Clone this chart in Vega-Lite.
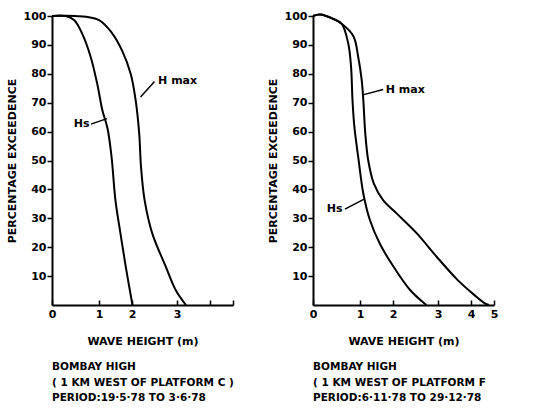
{
  "$schema": "https://vega.github.io/schema/vega-lite/v6.json",
  "padding": {"left": 6, "top": 10, "right": 0, "bottom": 0},
  "spacing": 33,
  "background": "white",
  "datasets": {
    "curves": [
      {"panel": "C", "series": "Hs", "h": 0, "p": 100},
      {"panel": "C", "series": "Hs", "h": 0.29, "p": 100},
      {"panel": "C", "series": "Hs", "h": 0.47, "p": 98.6},
      {"panel": "C", "series": "Hs", "h": 0.64, "p": 94},
      {"panel": "C", "series": "Hs", "h": 0.82, "p": 86},
      {"panel": "C", "series": "Hs", "h": 0.96, "p": 76.7},
      {"panel": "C", "series": "Hs", "h": 1.1, "p": 67.5},
      {"panel": "C", "series": "Hs", "h": 1.26, "p": 61},
      {"panel": "C", "series": "Hs", "h": 1.38, "p": 51.3},
      {"panel": "C", "series": "Hs", "h": 1.5, "p": 36},
      {"panel": "C", "series": "Hs", "h": 1.65, "p": 24.8},
      {"panel": "C", "series": "Hs", "h": 1.81, "p": 13.3},
      {"panel": "C", "series": "Hs", "h": 2.01, "p": 0},
      {"panel": "C", "series": "Hmax", "h": 0, "p": 100},
      {"panel": "C", "series": "Hmax", "h": 0.5, "p": 100},
      {"panel": "C", "series": "Hmax", "h": 1.0, "p": 98.6},
      {"panel": "C", "series": "Hmax", "h": 1.4, "p": 94},
      {"panel": "C", "series": "Hmax", "h": 1.7, "p": 88},
      {"panel": "C", "series": "Hmax", "h": 1.96, "p": 80},
      {"panel": "C", "series": "Hmax", "h": 2.08, "p": 71},
      {"panel": "C", "series": "Hmax", "h": 2.16, "p": 59.4},
      {"panel": "C", "series": "Hmax", "h": 2.2, "p": 47.9},
      {"panel": "C", "series": "Hmax", "h": 2.28, "p": 36.3},
      {"panel": "C", "series": "Hmax", "h": 2.45, "p": 24.8},
      {"panel": "C", "series": "Hmax", "h": 2.75, "p": 13.3},
      {"panel": "C", "series": "Hmax", "h": 2.97, "p": 5.2},
      {"panel": "C", "series": "Hmax", "h": 3.27, "p": 0},
      {"panel": "F", "series": "Hs", "h": 0, "p": 100},
      {"panel": "F", "series": "Hs", "h": 0.15, "p": 100.5},
      {"panel": "F", "series": "Hs", "h": 0.43, "p": 99},
      {"panel": "F", "series": "Hs", "h": 0.61, "p": 97.3},
      {"panel": "F", "series": "Hs", "h": 0.75, "p": 90.5},
      {"panel": "F", "series": "Hs", "h": 0.81, "p": 82.4},
      {"panel": "F", "series": "Hs", "h": 0.84, "p": 71},
      {"panel": "F", "series": "Hs", "h": 0.88, "p": 61.7},
      {"panel": "F", "series": "Hs", "h": 0.97, "p": 50.2},
      {"panel": "F", "series": "Hs", "h": 1.1, "p": 38.6},
      {"panel": "F", "series": "Hs", "h": 1.3, "p": 29.4},
      {"panel": "F", "series": "Hs", "h": 1.61, "p": 21},
      {"panel": "F", "series": "Hs", "h": 2.01, "p": 13.3},
      {"panel": "F", "series": "Hs", "h": 2.38, "p": 5.2},
      {"panel": "F", "series": "Hs", "h": 2.74, "p": 0},
      {"panel": "F", "series": "Hmax", "h": 0, "p": 100},
      {"panel": "F", "series": "Hmax", "h": 0.15, "p": 100.5},
      {"panel": "F", "series": "Hmax", "h": 0.43, "p": 99},
      {"panel": "F", "series": "Hmax", "h": 0.61, "p": 97.3},
      {"panel": "F", "series": "Hmax", "h": 0.86, "p": 93},
      {"panel": "F", "series": "Hmax", "h": 0.96, "p": 86},
      {"panel": "F", "series": "Hmax", "h": 1.05, "p": 78},
      {"panel": "F", "series": "Hmax", "h": 1.1, "p": 71},
      {"panel": "F", "series": "Hmax", "h": 1.16, "p": 59.4},
      {"panel": "F", "series": "Hmax", "h": 1.25, "p": 50},
      {"panel": "F", "series": "Hmax", "h": 1.42, "p": 42},
      {"panel": "F", "series": "Hmax", "h": 1.7, "p": 36.3},
      {"panel": "F", "series": "Hmax", "h": 2.08, "p": 31.7},
      {"panel": "F", "series": "Hmax", "h": 2.53, "p": 24.8},
      {"panel": "F", "series": "Hmax", "h": 2.97, "p": 16.7},
      {"panel": "F", "series": "Hmax", "h": 3.59, "p": 8.7},
      {"panel": "F", "series": "Hmax", "h": 4.14, "p": 3.5},
      {"panel": "F", "series": "Hmax", "h": 4.6, "p": 0.6},
      {"panel": "F", "series": "Hmax", "h": 4.78, "p": 0}
    ],
    "notes": [
      {"panel": "C", "series": "Hmax", "label": "H max", "tx": 2.58, "ty": 77.5, "x1": 2.19, "y1": 72, "x2": 2.5, "y2": 77.3},
      {"panel": "C", "series": "Hs", "label": "Hs", "tx": 0.8, "ty": 62.6, "x1": 0.83, "y1": 62.6, "x2": 1.24, "y2": 64.5},
      {"panel": "F", "series": "Hmax", "label": "H max", "tx": 1.78, "ty": 74.4, "x1": 1.09, "y1": 72.7, "x2": 1.7, "y2": 74.6},
      {"panel": "F", "series": "Hs", "label": "Hs", "tx": 0.63, "ty": 33.2, "x1": 0.68, "y1": 33.2, "x2": 1.14, "y2": 36.7}
    ]
  },
  "config": {
    "view": {"stroke": null},
    "font": "DejaVu Sans",
    "axis": {
      "grid": false,
      "labelOverlap": false,
      "domainColor": "black",
      "domainWidth": 2,
      "tickColor": "black",
      "tickWidth": 1.5,
      "labelFont": "DejaVu Sans",
      "labelFontWeight": "bold",
      "labelFontSize": 11,
      "labelColor": "black",
      "titleFont": "DejaVu Sans",
      "titleFontWeight": "bold",
      "titleFontSize": 11,
      "titleColor": "black"
    },
    "title": {"font": "DejaVu Sans", "fontWeight": "bold", "fontSize": 10.5, "color": "black", "lineHeight": 15.5}
  },
  "hconcat": [
    {
      "width": 181,
      "height": 289,
      "title": {"text": ["BOMBAY HIGH", "( 1 KM WEST OF PLATFORM C )", "PERIOD:19·5·78 TO 3·6·78"], "orient": "bottom", "anchor": "start", "frame": "group", "offset": 16},
      "layer": [
        {
          "data": {"name": "curves"},
          "transform": [{"filter": "datum.panel === 'C'"}],
          "mark": {"type": "line", "color": "black", "strokeWidth": 2, "interpolate": "catmull-rom"},
          "encoding": {
            "x": {"field": "h", "type": "quantitative",
                  "scale": {"domain": [0, 1, 2, 3, 4, 5], "range": [0, 47, 80, 125, 158, 181]},
                  "axis": {"values": [0, 1, 2, 3, 4, 5], "format": "d", "tickCount": 20, "labelOverlap": false, "labelFlush": false, "tickSize": -5, "labelPadding": 8, "titlePadding": 16, "title": "WAVE HEIGHT (m)",
                           "labelExpr": "datum.value > 3 ? '' : datum.label"}},
            "y": {"field": "p", "type": "quantitative",
                  "scale": {"domain": [0, 100], "nice": false},
                  "axis": {"values": [10, 20, 30, 40, 50, 60, 70, 80, 90, 100], "format": "d", "tickCount": 20, "labelOverlap": false, "labelFlush": false, "tickSize": 5, "labelPadding": 1, "titlePadding": 6, "title": "PERCENTAGE EXCEEDENCE"}},
            "detail": {"field": "series"}
          }
        },
        {
          "data": {"name": "notes"},
          "transform": [{"filter": "datum.panel === 'C'"}],
          "mark": {"type": "rule", "color": "black", "strokeWidth": 1.5},
          "encoding": {
            "x": {"field": "x1", "type": "quantitative"},
            "y": {"field": "y1", "type": "quantitative"},
            "x2": {"field": "x2"},
            "y2": {"field": "y2"}
          }
        },
        {
          "data": {"name": "notes"},
          "transform": [{"filter": "datum.panel === 'C' && datum.series === 'Hmax'"}],
          "mark": {"type": "text", "align": "left", "baseline": "middle", "fontWeight": "bold", "fontSize": 11, "color": "black"},
          "encoding": {
            "x": {"field": "tx", "type": "quantitative"},
            "y": {"field": "ty", "type": "quantitative"},
            "text": {"field": "label"}
          }
        },
        {
          "data": {"name": "notes"},
          "transform": [{"filter": "datum.panel === 'C' && datum.series === 'Hs'"}],
          "mark": {"type": "text", "align": "right", "baseline": "middle", "fontWeight": "bold", "fontSize": 11, "color": "black"},
          "encoding": {
            "x": {"field": "tx", "type": "quantitative"},
            "y": {"field": "ty", "type": "quantitative"},
            "text": {"field": "label"}
          }
        }
      ]
    },
    {
      "width": 181,
      "height": 289,
      "title": {"text": ["BOMBAY HIGH", "( 1 KM WEST OF PLATFORM F", "PERIOD:6·11·78 TO 29·12·78"], "orient": "bottom", "anchor": "start", "frame": "group", "offset": 16},
      "layer": [
        {
          "data": {"name": "curves"},
          "transform": [{"filter": "datum.panel === 'F'"}],
          "mark": {"type": "line", "color": "black", "strokeWidth": 2, "interpolate": "catmull-rom"},
          "encoding": {
            "x": {"field": "h", "type": "quantitative",
                  "scale": {"domain": [0, 1, 2, 3, 4, 5], "range": [0, 47, 80, 125, 158, 181]},
                  "axis": {"values": [0, 1, 2, 3, 4, 5], "format": "d", "tickCount": 20, "labelOverlap": false, "labelFlush": false, "tickSize": -5, "labelPadding": 8, "titlePadding": 16, "title": "WAVE HEIGHT (m)"}},
            "y": {"field": "p", "type": "quantitative",
                  "scale": {"domain": [0, 100], "nice": false},
                  "axis": {"values": [10, 20, 30, 40, 50, 60, 70, 80, 90, 100], "format": "d", "tickCount": 20, "labelOverlap": false, "labelFlush": false, "tickSize": 5, "labelPadding": 1, "titlePadding": 6, "title": "PERCENTAGE EXCEEDENCE"}},
            "detail": {"field": "series"}
          }
        },
        {
          "data": {"name": "notes"},
          "transform": [{"filter": "datum.panel === 'F'"}],
          "mark": {"type": "rule", "color": "black", "strokeWidth": 1.5},
          "encoding": {
            "x": {"field": "x1", "type": "quantitative"},
            "y": {"field": "y1", "type": "quantitative"},
            "x2": {"field": "x2"},
            "y2": {"field": "y2"}
          }
        },
        {
          "data": {"name": "notes"},
          "transform": [{"filter": "datum.panel === 'F' && datum.series === 'Hmax'"}],
          "mark": {"type": "text", "align": "left", "baseline": "middle", "fontWeight": "bold", "fontSize": 11, "color": "black"},
          "encoding": {
            "x": {"field": "tx", "type": "quantitative"},
            "y": {"field": "ty", "type": "quantitative"},
            "text": {"field": "label"}
          }
        },
        {
          "data": {"name": "notes"},
          "transform": [{"filter": "datum.panel === 'F' && datum.series === 'Hs'"}],
          "mark": {"type": "text", "align": "right", "baseline": "middle", "fontWeight": "bold", "fontSize": 11, "color": "black"},
          "encoding": {
            "x": {"field": "tx", "type": "quantitative"},
            "y": {"field": "ty", "type": "quantitative"},
            "text": {"field": "label"}
          }
        }
      ]
    }
  ]
}
